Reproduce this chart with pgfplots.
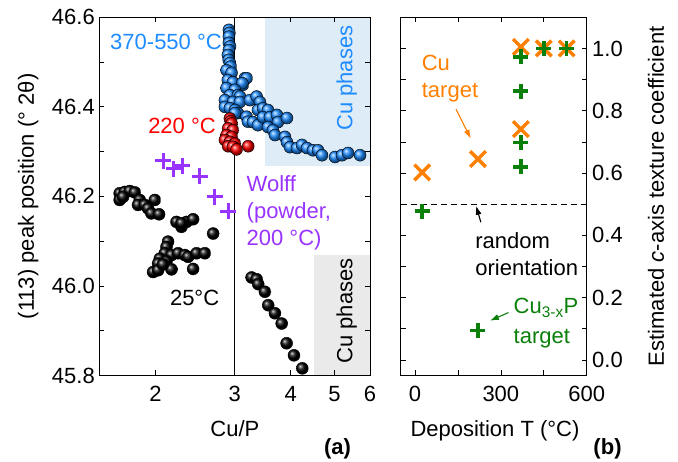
\documentclass[border=0pt]{standalone}
\usepackage{fontspec}
\setmainfont{Liberation Sans}
\usepackage{pgfplots}
\pgfplotsset{compat=1.18}
\usetikzlibrary{arrows.meta}

\definecolor{cublue}{RGB}{30,140,255}
\definecolor{cured}{RGB}{255,0,0}
\definecolor{wolff}{RGB}{153,51,255}
\definecolor{cuorange}{RGB}{255,127,0}
\definecolor{cpgreen}{RGB}{10,128,10}
\definecolor{phaseblue}{RGB}{222,236,248}
\definecolor{phasegray}{RGB}{234,234,234}

\newcommand{\bigfont}{\fontsize{22}{26}\selectfont}

\pgfplotsset{
  panel/.style={
    scale only axis,
    axis on top,
    tick align=inside,
    major tick length=5pt,
    minor tick length=5pt,
    every tick/.style={black, line width=0.7pt},
    axis line style={line width=0.9pt},
    tick label style={font=\bigfont},
    label style={font=\bigfont},
    /pgf/number format/assume math mode=true,
  },
  onedigit/.style={
    /pgf/number format/fixed,
    /pgf/number format/fixed zerofill,
    /pgf/number format/precision=1,
  },
  sphere/.style={only marks, mark=ball, mark size=6pt},
}

\begin{document}
\begin{tikzpicture}[font=\bigfont]
\path[use as bounding box] (0,0) rectangle (678pt,462pt);

% ---------------- (a) peak position vs Cu/P ----------------
\begin{axis}[panel,
  at={(99.3pt,86.5pt)}, anchor=south west,
  width=270.7pt, height=358.2pt,
  xmode=log, xmin=1.5, xmax=6,
  ymin=45.8, ymax=46.6,
  xtick={2,3,4,5,6}, xticklabels={2,3,4,5,6},
  ytick={45.8,46.0,46.2,46.4,46.6},
  minor ytick={45.9,46.1,46.3,46.5},
  yticklabel style={onedigit, xshift=-1pt},
  xticklabel style={yshift=-7pt},
  xlabel={Cu/P},
  xlabel style={at={(axis description cs:0.501,-0.149)}, anchor=center},
  ylabel={(113) peak position (° 2θ)},
  ylabel style={at={(axis description cs:-0.263,0.5)}, anchor=center},
  clip=false,
]
% phase regions
\addplot[fill=phaseblue, draw=none] coordinates {(3.5,46.268) (6,46.268) (6,46.6) (3.5,46.6)} -- cycle;
\addplot[fill=phasegray, draw=none] coordinates {(4.5,45.8) (6,45.8) (6,46.07) (4.5,46.07)} -- cycle;
% Cu/P = 3
\addplot[black, line width=0.9pt] coordinates {(3,45.8) (3,46.6)};

% 25 °C films
\addplot[sphere, ball color=black] coordinates {
(1.665,46.207) (1.709,46.210) (1.753,46.212) (1.799,46.209)
(1.665,46.192) (1.694,46.199) (1.845,46.192) (1.829,46.181)
(1.893,46.181) (1.926,46.173) (1.993,46.192) (1.959,46.162)
(2.037,46.160) (2.227,46.143) (2.285,46.132) (2.345,46.143)
(2.425,46.149) (2.285,46.140) (2.687,46.117)
(2.133,46.099) (2.116,46.087) (2.098,46.073) (2.171,46.069)
(2.246,46.073) (2.324,46.069) (2.364,46.065) (2.468,46.073)
(2.575,46.073) (2.045,46.061) (2.116,46.055) (2.027,46.050)
(1.976,46.031) (2.027,46.035) (2.171,46.037) (2.425,46.038)
(2.078,46.048)
(3.272,46.019) (3.357,46.015) (3.385,46.004) (3.503,45.987)
(3.563,45.957) (3.688,45.939) (3.817,45.916) (3.915,45.872)
(4.065,45.845) (4.242,45.816)
};

% 370-550 °C films
\addplot[sphere, ball color=cublue] coordinates {
(2.913,46.572) (2.920,46.565) (2.913,46.557) (2.913,46.543)
(2.930,46.535) (2.913,46.527) (2.898,46.516) (2.910,46.505)
(2.928,46.498) (2.940,46.490) (2.878,46.482) (2.953,46.476)
(2.898,46.460) (2.973,46.455) (3.162,46.464) (3.189,46.464)
(3.129,46.449) (3.120,46.453) (2.878,46.442) (3.004,46.438)
(2.928,46.426) (3.050,46.426) (3.082,46.423) (2.854,46.415)
(2.973,46.411) (3.082,46.411) (2.854,46.400) (2.928,46.397)
(3.004,46.393) (3.050,46.386) (3.004,46.386)
(3.244,46.415) (3.357,46.423) (3.415,46.411)
(3.189,46.378) (3.211,46.367) (3.294,46.366) (3.380,46.359)
(3.380,46.393) (3.468,46.397) (3.558,46.393) (3.468,46.377)
(3.594,46.377) (3.726,46.382) (3.745,46.366) (3.922,46.375)
(3.558,46.355) (3.650,46.348) (3.688,46.337) (3.882,46.333)
(3.922,46.321) (3.983,46.310) (4.128,46.308) (4.235,46.315)
(4.345,46.308) (4.481,46.303) (4.597,46.303) (4.692,46.292)
(5.016,46.288) (5.199,46.292) (5.362,46.297) (5.702,46.292)
};

% 220 °C films
\addplot[sphere, ball color=cured] coordinates {
(2.928,46.374) (2.940,46.368) (2.953,46.363) (2.902,46.352)
(2.973,46.348) (2.878,46.337) (2.953,46.333) (2.854,46.326)
(2.928,46.322) (3.004,46.318) (2.902,46.312) (2.973,46.311)
(3.030,46.305) (3.216,46.312)
};

% Wolff, powder at 200 °C
\addplot[only marks, mark=+, mark size=8pt, color=wolff, mark options={line width=3pt}] coordinates {
(2.080,46.280) (2.197,46.262) (2.296,46.268) (2.510,46.245)
(2.711,46.199) (2.902,46.167)
};

\node[anchor=base west, text=cublue] at (axis cs:1.558,46.528) {370-550 °C};
\node[anchor=base west, text=cured] at (axis cs:1.893,46.341) {220 °C};
\node[anchor=base west, text=wolff] at (axis cs:3.134,46.210) {Wolff};
\node[anchor=base west, text=wolff] at (axis cs:3.134,46.151) {(powder,};
\node[anchor=base west, text=wolff] at (axis cs:3.134,46.091) {200 °C)};
\node[anchor=base west, text=black] at (axis cs:2.116,45.957) {25°C};
\node[rotate=90, anchor=center, text=cublue] at (axis cs:5.326,46.464) {Cu phases};
\node[rotate=90, anchor=center, text=black] at (axis cs:5.326,45.944) {Cu phases};
\node[font=\bigfont\bfseries] at (axis description cs:0.880,-0.206) {(a)};
\end{axis}

% ---------------- (b) texture coefficient vs deposition T ----------------
\begin{axis}[panel,
  at={(400.7pt,86.5pt)}, anchor=south west,
  width=186pt, height=358.2pt,
  xmin=-50, xmax=600,
  ymin=-0.05, ymax=1.10,
  xtick={0,300,600}, minor xtick={150,450},
  ytick={0,0.2,0.4,0.6,0.8,1.0},
  minor ytick={0.1,0.3,0.5,0.7,0.9},
  ytick pos=both, yticklabel pos=right,
  yticklabel style={onedigit, xshift=2pt},
  xticklabel style={yshift=-7pt},
  xlabel={Deposition T (°C)},
  xlabel style={at={(axis description cs:0.507,-0.155)}, anchor=center},
  ylabel={Estimated \textit{c}-axis texture coefficient},
  ylabel style={at={(axis description cs:1.3726,0.5)}, anchor=center},
  clip=false,
]
% random orientation
\addplot[black, line width=0.9pt, dash pattern=on 6pt off 4pt] coordinates {(-50,0.5) (600,0.5)};

% Cu target
\addplot[only marks, mark=x, mark size=11pt, color=cuorange, mark options={line width=3.5pt}] coordinates {
(25,0.602) (220,0.645) (370,0.741) (370,1.005) (450,1.0) (530,1.0)
};
% Cu3-xP target
\addplot[only marks, mark=+, mark size=7.5pt, color=cpgreen, mark options={line width=3.6pt}] coordinates {
(25,0.478) (220,0.095) (370,0.620) (370,0.698) (370,0.863) (370,0.973)
(450,1.0) (530,1.0)
};

\node[anchor=base west, text=cuorange] at (axis cs:11.6,0.928) {Cu};
\node[anchor=base west, text=cuorange] at (axis cs:11.6,0.841) {target};
\draw[cuorange, line width=1.1pt, -{Latex[length=9pt,width=6pt]}] (axis cs:143.5,0.805) -- (axis cs:195,0.710);

\node[anchor=base west] at (axis cs:198.5,0.357) {random};
\node[anchor=base west] at (axis cs:198.5,0.272) {orientation};
\draw[black, line width=1.1pt, -{Latex[length=9pt,width=6pt]}] (axis cs:230,0.442) -- (axis cs:213.5,0.495);

\node[anchor=base west, text=cpgreen] at (axis cs:332.5,0.149) {Cu\textsubscript{3-x}P};
\node[anchor=base west, text=cpgreen] at (axis cs:332.5,0.053) {target};
\draw[cpgreen, line width=1.1pt, -{Latex[length=9pt,width=6pt]}] (axis cs:326.7,0.152) -- (axis cs:262,0.126);

\node[font=\bigfont\bfseries] at (axis description cs:1.112,-0.206) {(b)};
\end{axis}
\end{tikzpicture}
\end{document}
